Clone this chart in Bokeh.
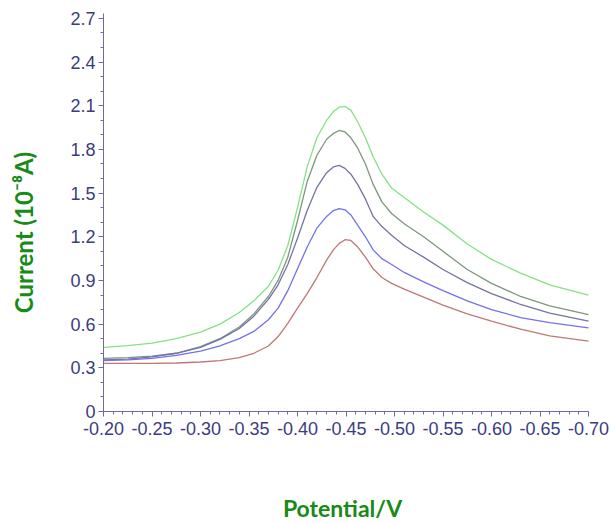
import math
from bokeh.plotting import figure
from bokeh.models import Range1d, FixedTicker, CustomJSTickFormatter, Label
from bokeh.embed import file_html
from bokeh.resources import INLINE

# Potential (V)
potential = [-0.20, -0.225, -0.25, -0.275, -0.30, -0.32, -0.34, -0.355, -0.37, -0.38,
             -0.39, -0.40, -0.41, -0.42, -0.43, -0.437, -0.443, -0.449, -0.455, -0.462,
             -0.47, -0.478, -0.487, -0.497, -0.51, -0.53, -0.55, -0.575, -0.60, -0.63,
             -0.66, -0.70]

# Currents (10^-8 A)
curve_green = [0.44, 0.452, 0.47, 0.50, 0.545, 0.60, 0.68, 0.76, 0.86, 0.97,
               1.14, 1.40, 1.68, 1.88, 2.00, 2.06, 2.09, 2.095, 2.07, 1.99,
               1.88, 1.75, 1.63, 1.535, 1.47, 1.37, 1.28, 1.15, 1.045, 0.95,
               0.87, 0.80]
curve_gray = [0.365, 0.37, 0.38, 0.40, 0.445, 0.50, 0.58, 0.67, 0.79, 0.90,
              1.06, 1.31, 1.58, 1.76, 1.87, 1.91, 1.93, 1.92, 1.88, 1.81,
              1.70, 1.56, 1.44, 1.36, 1.29, 1.20, 1.10, 0.975, 0.88, 0.79,
              0.725, 0.665]
curve_purple = [0.355, 0.36, 0.375, 0.40, 0.44, 0.495, 0.57, 0.655, 0.77, 0.87,
                1.01, 1.19, 1.38, 1.54, 1.64, 1.68, 1.69, 1.67, 1.63, 1.56,
                1.46, 1.34, 1.27, 1.21, 1.14, 1.06, 0.975, 0.885, 0.81, 0.735,
                0.675, 0.62]
curve_blue = [0.35, 0.355, 0.365, 0.385, 0.415, 0.45, 0.50, 0.55, 0.63, 0.71,
              0.83, 0.98, 1.13, 1.26, 1.34, 1.38, 1.394, 1.385, 1.35, 1.28,
              1.20, 1.11, 1.05, 1.01, 0.955, 0.89, 0.83, 0.76, 0.70, 0.645,
              0.61, 0.575]
curve_red = [0.33, 0.33, 0.33, 0.333, 0.34, 0.35, 0.37, 0.40, 0.45, 0.515,
             0.605, 0.71, 0.81, 0.92, 1.04, 1.11, 1.155, 1.18, 1.175, 1.13,
             1.06, 0.98, 0.92, 0.88, 0.84, 0.785, 0.73, 0.67, 0.62, 0.565,
             0.52, 0.483]

x_ticks = [-0.20, -0.25, -0.30, -0.35, -0.40, -0.45, -0.50, -0.55, -0.60, -0.65, -0.70]
y_ticks = [0, 0.3, 0.6, 0.9, 1.2, 1.5, 1.8, 2.1, 2.4, 2.7]
x_minor = [round(-0.20 - 0.01 * i, 2) for i in range(51)]
y_minor = [round(0.1 * i, 1) for i in range(28)]

series = [
    (curve_green, "#86e086"),
    (curve_gray, "#7d977d"),
    (curve_purple, "#7373a6"),
    (curve_blue, "#7272ec"),
    (curve_red, "#c07777"),
]

# frame covers the whole canvas; axes drawn at fixed locations
p = figure(width=611, height=524, output_backend="svg", toolbar_location=None,
           x_range=Range1d(-0.09381, -0.72371), y_range=Range1d(-0.7761, 2.8228),
           min_border=0)
p.outline_line_color = None
p.xgrid.visible = False
p.ygrid.visible = False
p.background_fill_color = "white"
p.border_fill_color = "white"

for ys, col in series:
    p.line(potential, ys, line_color=col, line_width=1.3)

axis_col = "#6b6bab"
lab_col = "#3c3c80"
for ax in (p.xaxis[0], p.yaxis[0]):
    ax.axis_line_color = axis_col
    ax.major_tick_line_color = axis_col
    ax.minor_tick_line_color = axis_col
    ax.major_tick_out = 5
    ax.major_tick_in = 0
    ax.minor_tick_out = 3
    ax.minor_tick_in = 0
    ax.major_label_text_color = lab_col
    ax.major_label_text_font = "Liberation Sans"
    ax.major_label_text_font_size = "18px"

p.xaxis[0].fixed_location = 0
p.xaxis[0].bounds = (-0.70, -0.20)
p.yaxis[0].fixed_location = -0.20
p.yaxis[0].bounds = (0, 2.733)
p.xaxis[0].ticker = FixedTicker(ticks=x_ticks, minor_ticks=x_minor)
p.yaxis[0].ticker = FixedTicker(ticks=y_ticks, minor_ticks=y_minor)
p.xaxis[0].formatter = CustomJSTickFormatter(code="return tick.toFixed(2);")
p.yaxis[0].formatter = CustomJSTickFormatter(code="return Math.abs(tick) < 1e-9 ? '0' : tick.toFixed(1);")
p.xaxis[0].major_label_standoff = 6
p.yaxis[0].major_label_standoff = 3

green = "#178a17"
p.add_layout(Label(x=-0.4464, y=-0.666, text="Potential/V", text_color=green,
                   text_font="Lato", text_font_style="bold", text_font_size="23px",
                   text_align="center", text_baseline="middle"))
p.add_layout(Label(x=-0.1175, y=1.229, text="Current (10\u207b\u2078A)", text_color=green,
                   text_font="Lato", text_font_style="bold", text_font_size="24px",
                   text_align="center", text_baseline="middle", angle=math.pi / 2))

open("out.html", "w").write(file_html(p, INLINE))
